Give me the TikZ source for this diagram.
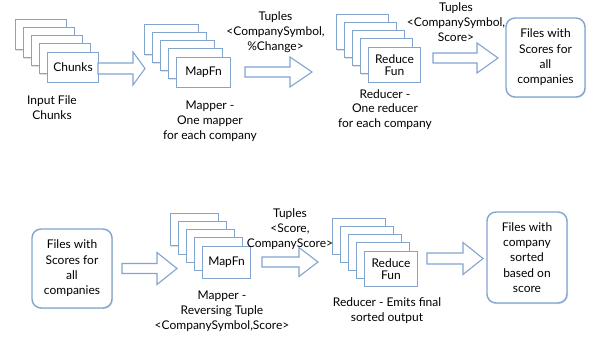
\documentclass[tikz,border=0pt]{standalone}
\usepackage{fontspec}
\setmainfont{Lato}
\usetikzlibrary{shadows}

\definecolor{edgeblue}{RGB}{130,165,208}

\tikzset{
  card/.style={draw=edgeblue, line width=1pt, fill=white,
    drop shadow={shadow xshift=0.8pt, shadow yshift=-0.8pt, opacity=0.25}},
  cardtext/.style={card, inner sep=0pt, anchor=north west, align=center,
    font=\fontsize{12}{14}\selectfont},
  outbox/.style={draw=edgeblue, line width=1.4pt, fill=white, rounded corners=9pt,
    inner sep=0pt, align=center, font=\fontsize{12}{15.3}\selectfont,
    drop shadow={shadow xshift=1pt, shadow yshift=-1pt, opacity=0.25}},
  blockarrow/.style={draw=edgeblue, line width=1.1pt, fill=white, line join=miter},
  label/.style={align=center, inner sep=0pt, font=\fontsize{12}{14.8}\selectfont}
}

% stack of five cards; the front one carries the text
% #1 name, #2 x, #3 y, #4 width, #5 height, #6 text
\newcommand\cardstack[6]{%
  \foreach \k in {4,3,2,1}{
    \draw[card] (#2-8*\k,#3-8*\k) rectangle ++(#4,#5);
  }
  \node[cardtext, minimum width=#4pt, minimum height=#5pt] (#1) at (#2,#3) {#6};
}

% block arrow: #1 name, #2 x start, #3 x tip, #4 x head start, #5 y centre,
% #6 shaft half height, #7 head half height
\newcommand\fatarrow[7]{%
  \draw[blockarrow] (#2,#5-#6) -- (#4,#5-#6) -- (#4,#5-#7) -- (#3,#5)
    -- (#4,#5+#7) -- (#4,#5+#6) -- (#2,#5+#6) -- cycle;
  \coordinate (#1) at (#2,#5);
}

\begin{document}
\begin{tikzpicture}[x=1pt, y=-1pt]
\useasboundingbox (0,0) rectangle (589,339);

% ---- first job: score every company ----
\cardstack{chunks}{47}{52}{51}{30}{Chunks}
\node[label] (chunkslbl) at (52,108) {Input File\\Chunks};

\fatarrow{a1}{98}{145}{133}{68.5}{5.5}{16.5}

\cardstack{map1}{176}{57}{54}{30}{MapFn}
\node[label] (map1lbl) at (210,121.5) {Mapper -\\One mapper\\for each company};

\node[label] (tup1) at (275.5,32) {Tuples\\<CompanySymbol,\\\%Change>};
\fatarrow{a2}{245}{312}{290}{72}{5}{15}

\cardstack{red1}{368}{47}{52}{35}{Reduce\\[-2pt]Fun}
\node[label] (red1lbl) at (385,109.5) {Reducer -\\One reducer\\for each company};

\node[label] (tup2) at (456,22) {Tuples\\<CompanySymbol,\\Score>};
\fatarrow{a3}{433}{498}{477}{58}{5}{15}

\node[outbox, minimum width=79pt, minimum height=79pt] (scores1) at (545.5,57.5)
  {Files with\\Scores for\\all\\companies};

% ---- second job: sort by score ----
\node[outbox, minimum width=80pt, minimum height=79pt] (scores2) at (72,268.5)
  {Files with\\Scores for\\all\\companies};

\fatarrow{a4}{122}{177}{157}{268.5}{5}{16}

\cardstack{map2}{202}{246}{48}{32}{MapFn}
\node[label] (map2lbl) at (222,311) {Mapper -\\Reversing Tuple\\<CompanySymbol,Score>};

\node[label] (tup3) at (290,229) {Tuples\\<Score,\\CompanyScore>};
\fatarrow{a5}{262}{318}{299}{262}{5}{14.5}

\cardstack{red2}{364}{251}{53}{35}{Reduce\\[-2pt]Fun}
\node[label] (red2lbl) at (387,310.5) {Reducer - Emits final\\sorted output};

\fatarrow{a6}{427}{483}{463}{258.5}{5.5}{16}

\node[outbox, minimum width=80pt, minimum height=91pt] (sorted) at (527,257.5)
  {Files with\\company\\sorted\\based on\\score};
\end{tikzpicture}
\end{document}
